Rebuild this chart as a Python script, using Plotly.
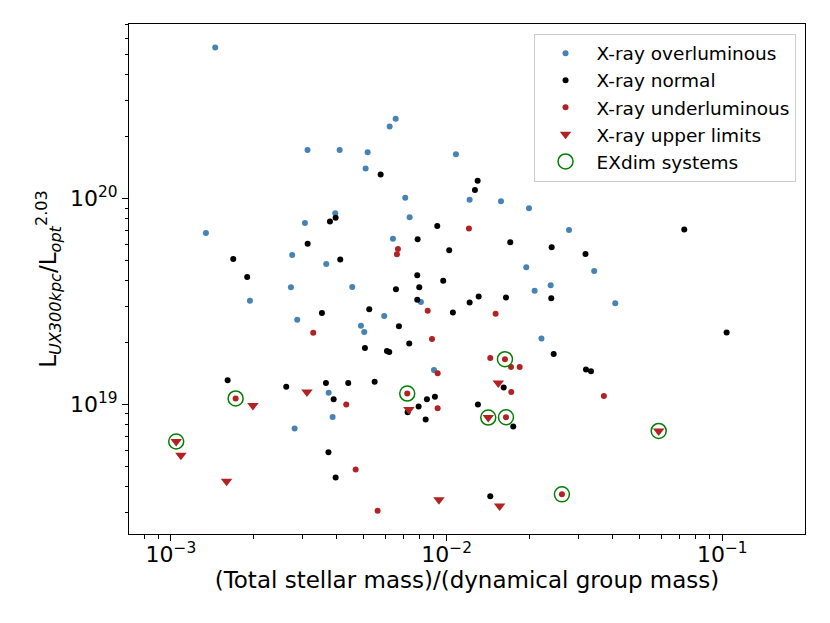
import plotly.graph_objects as go

# X-ray overluminous groups
over_x = [1.448e-3, 3.13e-3, 1.340e-3, 3.063e-3, 2.754e-3, 3.660e-3, 2.725e-3, 1.935e-3,
          2.872e-3, 3.734e-3, 2.810e-3, 6.535e-3, 6.215e-3, 4.093e-3, 5.171e-3, 1.081e-2,
          5.085e-3, 7.079e-3, 1.212e-2, 1.575e-2, 1.99e-2, 3.945e-3, 7.345e-3, 6.389e-3,
          1.945e-2, 4.547e-3, 8.07e-3, 2.086e-2, 5.94e-3, 4.89e-3, 5.027e-3, 2.208e-2,
          9.00e-3, 3.860e-3, 2.78e-2, 3.43e-2, 2.385e-2, 4.09e-2]
over_y = [5.42e20, 1.72e20, 6.81e19, 7.62e19, 5.32e19, 4.81e19, 3.71e19, 3.19e19,
          2.58e19, 1.14e19, 7.65e18, 2.44e20, 2.24e20, 1.72e20, 1.68e20, 1.64e20,
          1.40e20, 1.01e20, 9.86e19, 9.71e19, 8.98e19, 8.49e19, 8.12e19, 6.39e19,
          4.64e19, 3.72e19, 3.15e19, 3.57e19, 2.69e19, 2.41e19, 2.25e19, 2.09e19,
          1.47e19, 8.70e18, 7.04e19, 4.45e19, 3.79e19, 3.10e19]

# X-ray normal groups
norm_x = [3.774e-3, 3.133e-3, 1.683e-3, 1.891e-3, 3.530e-3, 1.606e-3, 2.620e-3, 3.650e-3,
          3.728e-3, 3.958e-3, 5.765e-3, 1.296e-2, 1.267e-2, 9.25e-3, 7.85e-3, 1.022e-2,
          1.702e-2, 4.114e-3, 7.826e-3, 9.72e-3, 6.55e-3, 7.96e-3, 7.826e-3, 1.307e-2,
          1.212e-2, 1.642e-2, 5.241e-3, 1.054e-2, 6.716e-3, 7.32e-3, 5.055e-3, 6.076e-3,
          6.194e-3, 4.397e-3, 5.483e-3, 1.611e-2, 9.07e-3, 8.485e-3, 3.893e-3, 7.916e-3,
          7.222e-3, 8.395e-3, 1.299e-2, 1.745e-2, 3.958e-3, 1.440e-2, 7.28e-2, 2.405e-2,
          3.19e-2, 2.397e-2, 1.037e-1, 2.446e-2, 3.203e-2, 3.34e-2]
norm_y = [7.73e19, 6.04e19, 5.09e19, 4.16e19, 2.78e19, 1.31e19, 1.22e19, 1.27e19,
          5.86e18, 8.08e19, 1.31e20, 1.22e20, 1.10e20, 7.37e19, 6.35e19, 5.61e19,
          6.14e19, 5.06e19, 4.24e19, 3.99e19, 3.63e19, 3.71e19, 3.23e19, 3.35e19,
          3.13e19, 3.31e19, 2.90e19, 2.80e19, 2.40e19, 1.98e19, 1.88e19, 1.82e19,
          1.80e19, 1.27e19, 1.29e19, 1.21e19, 1.09e19, 1.06e19, 1.06e19, 9.78e18,
          9.17e18, 8.45e18, 1.00e19, 7.82e18, 4.42e18, 3.58e18, 7.07e19, 5.80e19,
          5.38e19, 3.28e19, 2.24e19, 1.76e19, 1.48e19, 1.45e19]

# X-ray underluminous groups
under_x = [3.283e-3, 1.205e-2, 6.66e-3, 6.605e-3, 8.54e-3, 1.506e-2, 8.85e-3, 1.440e-2,
           1.712e-2, 1.841e-2, 9.28e-3, 1.716e-2, 4.325e-3, 9.28e-3, 4.679e-3, 5.62e-3,
           3.72e-2, 1.717e-3, 1.628e-2, 7.198e-3, 1.642e-2, 2.62e-2]
under_y = [2.23e19, 7.15e19, 5.69e19, 5.36e19, 2.85e19, 2.76e19, 2.08e19, 1.68e19,
           1.52e19, 1.52e19, 1.42e19, 1.15e19, 1.00e19, 9.59e18, 4.83e18, 3.05e18,
           1.10e19, 1.07e19, 1.66e19, 1.13e19, 8.67e18, 3.66e18]

# X-ray upper limits
upper_x = [3.115e-3, 1.984e-3, 1.045e-3, 1.087e-3, 1.592e-3, 1.540e-2, 7.30e-3, 1.416e-2,
           9.38e-3, 1.557e-2, 5.88e-2]
upper_y = [1.15e19, 9.89e18, 6.61e18, 5.67e18, 4.24e18, 1.27e19, 9.46e18, 8.64e18,
           3.45e18, 3.21e18, 7.44e18]

# EXdim systems
exdim_x = [1.717e-3, 1.628e-2, 7.198e-3, 1.642e-2, 2.62e-2, 1.045e-3, 1.416e-2, 5.88e-2]
exdim_y = [1.07e19, 1.66e19, 1.13e19, 8.67e18, 3.66e18, 6.61e18, 8.64e18, 7.44e18]

x_ticks = [1e-3, 1e-2, 1e-1]
x_ticktext = ["10<sup>\u22123</sup>", "10<sup>\u22122</sup>", "10<sup>\u22121</sup>"]
y_ticks = [1e19, 1e20]
y_ticktext = ["10<sup>19</sup>", "10<sup>20</sup>"]

x_minor = [k * 10.0 ** e for e in range(-4, 0) for k in range(2, 10)]
x_minor = [v for v in x_minor if 7.0e-4 < v < 0.2]
y_minor = [k * 10.0 ** e for e in range(18, 21) for k in range(2, 10)]
y_minor = [v for v in y_minor if 2.3e18 < v < 7.1e20]

fig = go.Figure()
fig.add_trace(go.Scatter(x=over_x, y=over_y, mode="markers", name="X-ray overluminous",
                         marker=dict(color="#4682b4", size=6)))
fig.add_trace(go.Scatter(x=norm_x, y=norm_y, mode="markers", name="X-ray normal",
                         marker=dict(color="black", size=6)))
fig.add_trace(go.Scatter(x=under_x, y=under_y, mode="markers", name="X-ray underluminous",
                         marker=dict(color="#b22222", size=6)))
fig.add_trace(go.Scatter(x=upper_x, y=upper_y, mode="markers", name="X-ray upper limits",
                         marker=dict(color="#b22222", size=10, symbol="triangle-down")))
fig.add_trace(go.Scatter(x=exdim_x, y=exdim_y, mode="markers", name="EXdim systems",
                         marker=dict(color="rgba(0,0,0,0)", size=15, symbol="circle",
                                     line=dict(color="#008000", width=1.5))))

axis_common = dict(
    type="log", showgrid=False, zeroline=False,
    showline=True, linecolor="black", linewidth=1, mirror=True,
    ticks="outside", ticklen=6, tickwidth=1, tickcolor="black",
    tickfont=dict(size=22, color="black"),
)

fig.update_xaxes(
    range=[-3.152, -0.700], tickmode="array", tickvals=x_ticks, ticktext=x_ticktext,
    minor=dict(tickmode="array", tickvals=x_minor, ticks="outside", ticklen=3.5,
               tickcolor="black", tickwidth=0.8),
    ticklabelstandoff=-5,
    title=dict(text="(Total stellar mass)/(dynamical group mass)",
               font=dict(size=23, color="black"), standoff=0),
    **axis_common,
)
fig.update_yaxes(
    range=[18.371, 20.848], tickmode="array", tickvals=y_ticks, ticktext=y_ticktext,
    minor=dict(tickmode="array", tickvals=y_minor, ticks="outside", ticklen=3.5,
               tickcolor="black", tickwidth=0.8),
    title=dict(text="L<sub><i>UX300kpc</i></sub>/L<sub><i>opt</i></sub><sup>2.03</sup>",
               font=dict(size=23, color="black"), standoff=6),
    **axis_common,
)

fig.update_layout(
    width=830, height=623,
    margin=dict(l=121, r=33, t=16, b=97),
    plot_bgcolor="white", paper_bgcolor="white",
    font=dict(family="DejaVu Sans", color="black"),
    legend=dict(x=0.986, y=0.981, xanchor="right", yanchor="top",
                bgcolor="rgba(255,255,255,0.8)", bordercolor="#cccccc", borderwidth=1,
                font=dict(size=18.5), itemwidth=52),
    showlegend=True,
)

fig.write_html("out.html")
